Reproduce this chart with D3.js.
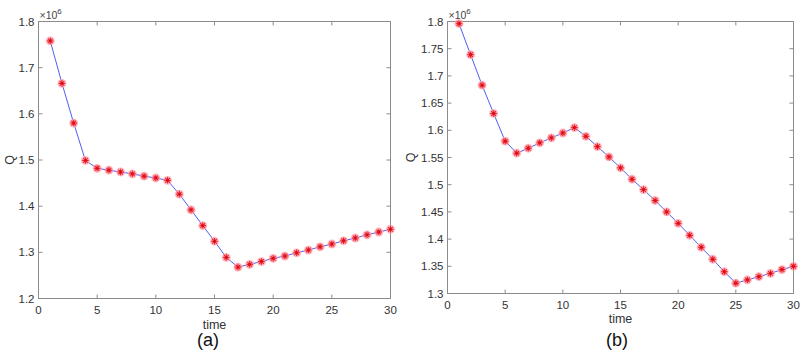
<!DOCTYPE html>
<html>
<head>
<meta charset="utf-8">
<script src="https://cdn.jsdelivr.net/npm/d3@7"></script>
<style>
  body { margin: 0; background: #fff; }
  svg { display: block; }
  text { font-family: "Liberation Sans", Arial, sans-serif; }
</style>
</head>
<body>
<svg id="chart" width="800" height="354"></svg>
<script>
// time steps shared by both panels
var time = d3.range(1, 31);

// panel (a) values, in units of 1e6
var qA = [1.758, 1.666, 1.580, 1.499, 1.482, 1.478, 1.474, 1.470, 1.465, 1.461,
          1.456, 1.426, 1.392, 1.358, 1.324, 1.289, 1.268, 1.274, 1.280, 1.287,
          1.292, 1.299, 1.305, 1.312, 1.318, 1.325, 1.331, 1.338, 1.344, 1.350];

// panel (b) values, in units of 1e6
var qB = [1.796, 1.739, 1.683, 1.631, 1.580, 1.558, 1.567, 1.577, 1.586, 1.595,
          1.605, 1.589, 1.570, 1.551, 1.531, 1.510, 1.491, 1.471, 1.450, 1.429,
          1.407, 1.385, 1.363, 1.340, 1.319, 1.325, 1.331, 1.337, 1.344, 1.350];

var xTicks = [0, 5, 10, 15, 20, 25, 30];
var yTicksA = [1.2, 1.3, 1.4, 1.5, 1.6, 1.7, 1.8];
var yTicksB = [1.3, 1.35, 1.4, 1.45, 1.5, 1.55, 1.6, 1.65, 1.7, 1.75, 1.8];

var svg = d3.select('#chart');

function drawPanel(opts) {
    var x = d3.scaleLinear().domain([0, 30]).range([opts.left, opts.right]);
    var y = d3.scaleLinear().domain(opts.yDomain).range([opts.bottom, opts.top]);
    var g = svg.append('g');
    var tickLen = 4;
    var axisColor = '#8c8c8c';

    // axes box
    g.append('rect')
        .attr('x', opts.left).attr('y', opts.top)
        .attr('width', opts.right - opts.left).attr('height', opts.bottom - opts.top)
        .attr('fill', 'none').attr('stroke', axisColor).attr('stroke-width', 1);

    // inward ticks on all four sides
    xTicks.forEach(function (t) {
        g.append('line').attr('x1', x(t)).attr('x2', x(t))
            .attr('y1', opts.bottom).attr('y2', opts.bottom - tickLen)
            .attr('stroke', axisColor);
        g.append('line').attr('x1', x(t)).attr('x2', x(t))
            .attr('y1', opts.top).attr('y2', opts.top + tickLen)
            .attr('stroke', axisColor);
        g.append('text').attr('x', x(t)).attr('y', opts.bottom + 15)
            .attr('text-anchor', 'middle').attr('font-size', 11.5).attr('fill', '#333')
            .text(t);
    });
    opts.yTicks.forEach(function (t) {
        g.append('line').attr('x1', opts.left).attr('x2', opts.left + tickLen)
            .attr('y1', y(t)).attr('y2', y(t)).attr('stroke', axisColor);
        g.append('line').attr('x1', opts.right).attr('x2', opts.right - tickLen)
            .attr('y1', y(t)).attr('y2', y(t)).attr('stroke', axisColor);
        g.append('text').attr('x', opts.left - 4).attr('y', y(t) + 4)
            .attr('text-anchor', 'end').attr('font-size', 11.5).attr('fill', '#333')
            .text(t);
    });

    // exponent label
    var ex = g.append('text').attr('x', opts.left + 1).attr('y', opts.top - 3)
        .attr('font-size', 10.5).attr('fill', '#444');
    ex.append('tspan').text('\u00d710');
    ex.append('tspan').attr('dy', -5).attr('font-size', 8).text('6');

    // axis titles
    g.append('text').attr('x', (opts.left + opts.right) / 2).attr('y', opts.timeY)
        .attr('text-anchor', 'middle').attr('font-size', 12.5).attr('fill', '#333')
        .text('time');
    g.append('text')
        .attr('transform', 'translate(' + opts.qX + ',' + ((opts.top + opts.bottom) / 2) + ') rotate(-90)')
        .attr('text-anchor', 'middle').attr('font-size', 12.5).attr('fill', '#333')
        .text('Q');
    g.append('text').attr('x', opts.capX).attr('y', 346)
        .attr('text-anchor', 'middle').attr('font-size', 18).attr('fill', '#111')
        .attr('font-family', 'Open Sans, Liberation Sans, sans-serif')
        .text(opts.caption);

    var pts = time.map(function (t, i) { return [t, opts.values[i]]; });

    var line = d3.line()
        .x(function (d) { return x(d[0]); })
        .y(function (d) { return y(d[1]); });

    g.append('path').datum(pts)
        .attr('d', line).attr('fill', 'none')
        .attr('stroke', '#4f5ff5').attr('stroke-width', 1);

    var m = g.selectAll('g.mk').data(pts).enter().append('g')
        .attr('class', 'mk')
        .attr('transform', function (d) { return 'translate(' + x(d[0]) + ',' + y(d[1]) + ')'; });
    m.append('circle').attr('r', 4.4).attr('fill', '#ffa0ab').attr('opacity', 0.8);
    var s = 3.3;
    [[-s, 0, s, 0], [0, -s, 0, s], [-s * 0.7, -s * 0.7, s * 0.7, s * 0.7], [-s * 0.7, s * 0.7, s * 0.7, -s * 0.7]]
        .forEach(function (c) {
            m.append('line').attr('x1', c[0]).attr('y1', c[1]).attr('x2', c[2]).attr('y2', c[3])
                .attr('stroke', '#f0202a').attr('stroke-width', 1.1);
        });
    m.append('circle').attr('r', 1.4).attr('fill', '#d0101a');
}

drawPanel({
    left: 38.5, right: 390.5, top: 21.5, bottom: 298.5,
    yDomain: [1.2, 1.8], yTicks: yTicksA, values: qA,
    timeY: 329, qX: 14, capX: 208, caption: '(a)'
});

drawPanel({
    left: 447.5, right: 793.5, top: 21.5, bottom: 293.5,
    yDomain: [1.3, 1.8], yTicks: yTicksB, values: qB,
    timeY: 323, qX: 415, capX: 617, caption: '(b)'
});
</script>
</body>
</html>
